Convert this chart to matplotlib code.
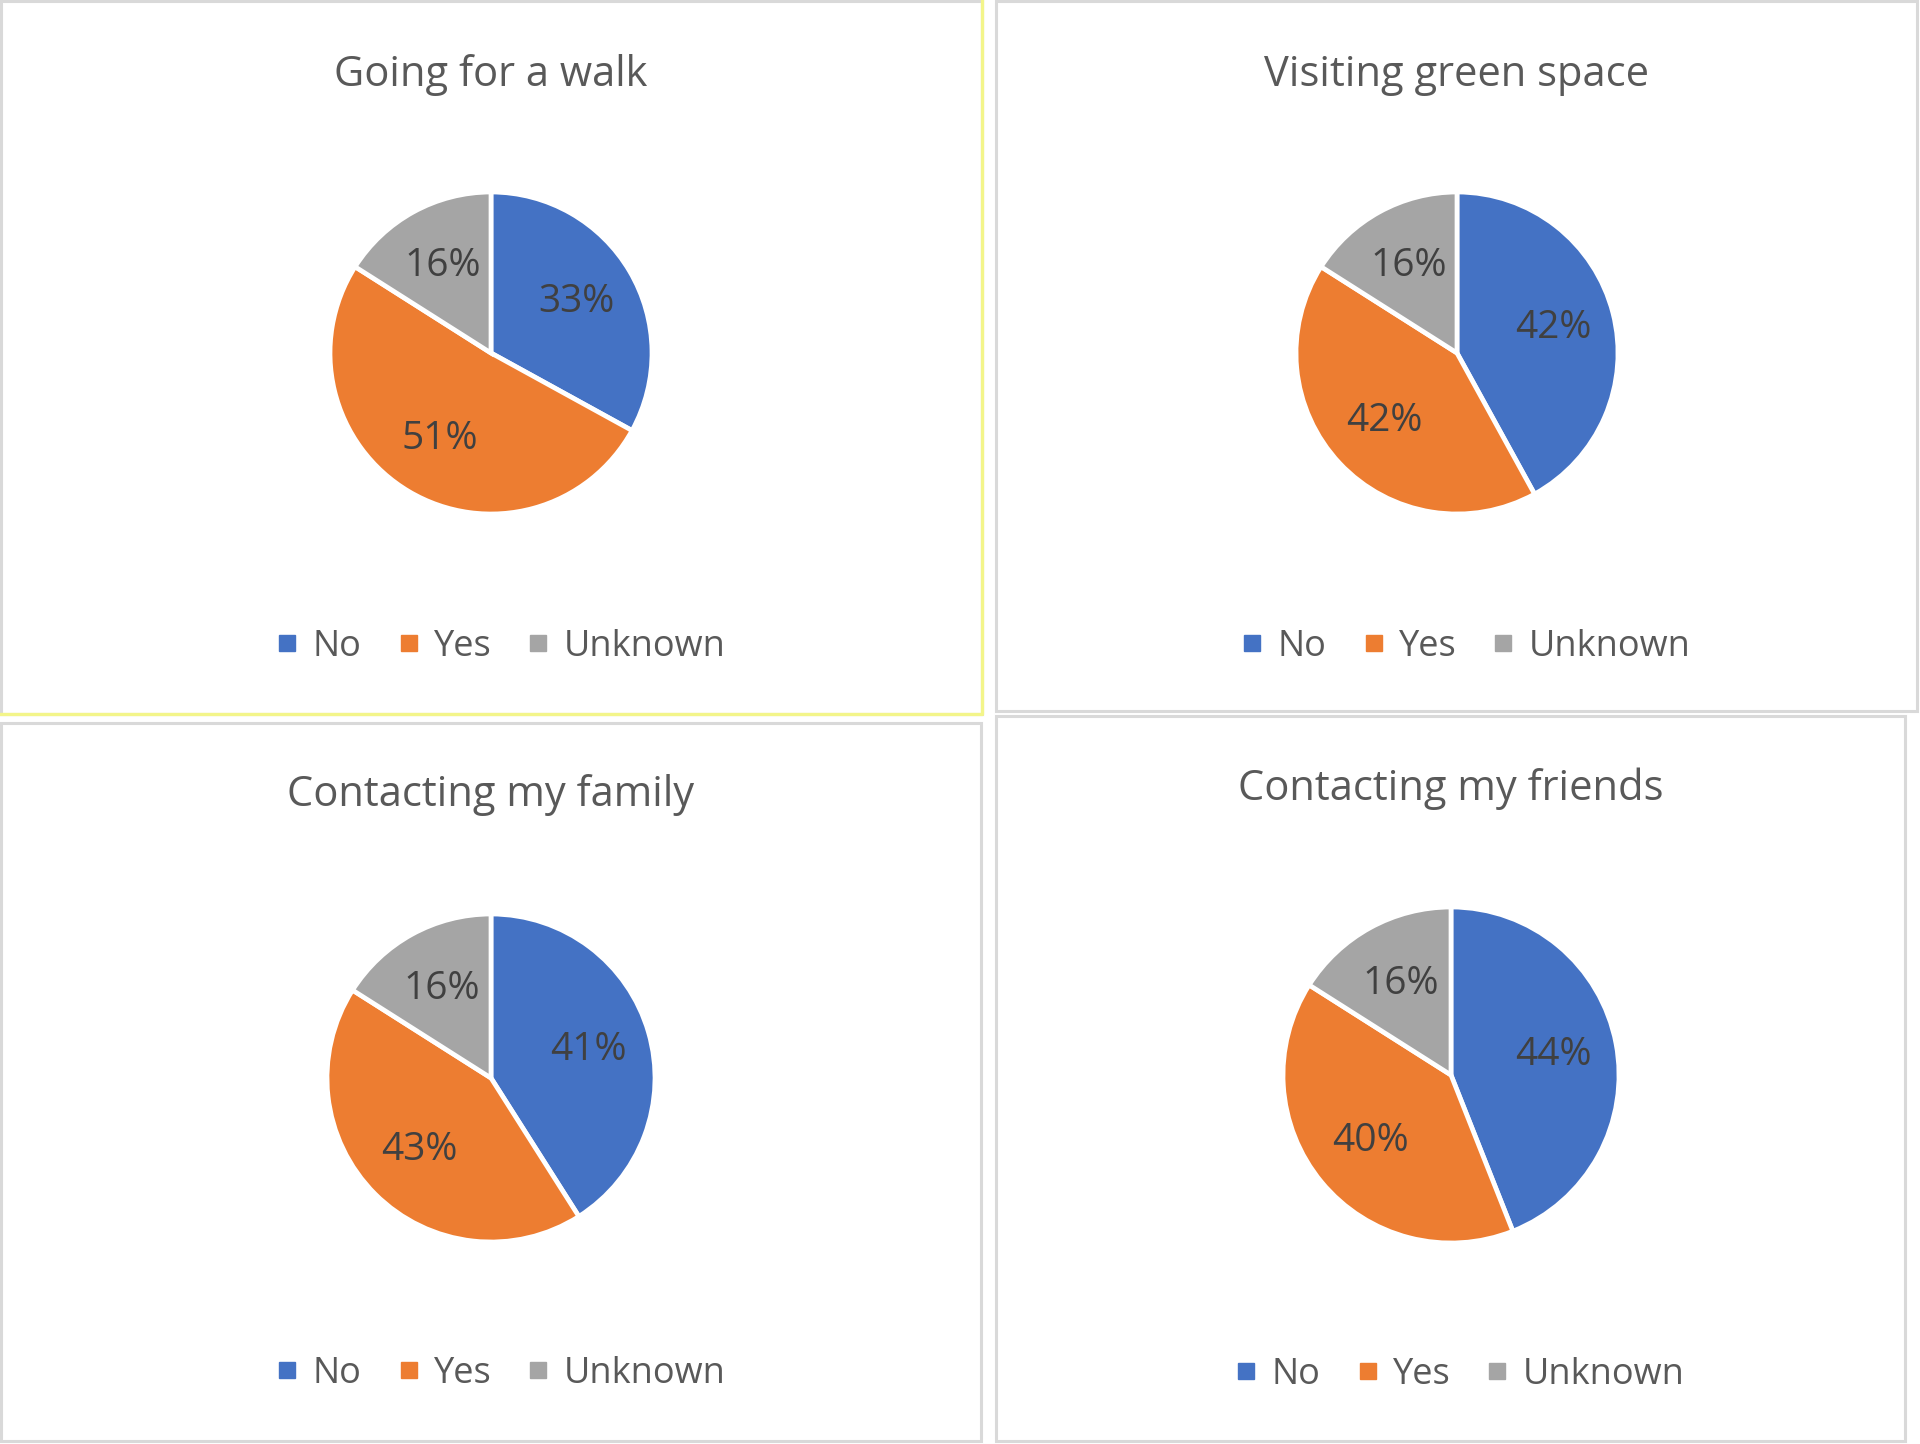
import matplotlib
matplotlib.use("Agg")
import matplotlib.pyplot as plt
from matplotlib.patches import Rectangle
from matplotlib.lines import Line2D

plt.rcParams['font.family'] = ['Open Sans', 'DejaVu Sans']
plt.rcParams['font.weight'] = 'medium'

categories = ["No", "Yes", "Unknown"]
colors = ["#4472C4", "#ED7D31", "#A5A5A5"]
titles = ["Going for a walk", "Visiting green space", "Contacting my family", "Contacting my friends"]
walk = [33, 51, 16]
green_space = [42, 42, 16]
family = [41, 43, 16]
friends = [44, 40, 16]
series = [walk, green_space, family, friends]

W, H = 1920, 1444
fig = plt.figure(figsize=(W / 100, H / 100), dpi=100)
fig.patch.set_facecolor("white")

# panel boxes (x0, y0, x1, y1) in pixels from top-left
panels = [(1, 1, 982, 714), (996, 1, 1917, 711), (1, 723, 981, 1441), (996, 716, 1905, 1441)]
# pie centers and radius
pies = [(491, 353, 161), (1457, 353, 161), (491, 1078, 164), (1451, 1075, 168)]
title_pos = [(491, 75), (1457, 75), (491, 795), (1451, 789)]
legend_pos = [(502, 647), (1467, 647), (502, 1374), (1461, 1375)]

def fx(px):
    return px / W

def fy(py):
    return 1 - py / H

for (x0, y0, x1, y1) in panels:
    fig.patches.append(Rectangle((fx(x0), fy(y1)), fx(x1) - fx(x0), fy(y0) - fy(y1),
                                 transform=fig.transFigure, fill=False,
                                 edgecolor="#D9D9D9", linewidth=2.2))
# yellowish highlight on first panel right/bottom edges
x0, y0, x1, y1 = panels[0]
fig.lines.append(Line2D([fx(x0), fx(x1), fx(x1)], [fy(y1), fy(y1), fy(y0)],
                        transform=fig.transFigure, color="#F3F58A", linewidth=2.4))

for i, vals in enumerate(series):
    cx, cy, r = pies[i]
    ax = fig.add_axes([fx(cx - r), fy(cy + r), 2 * r / W, 2 * r / H])
    wedges, texts, autotexts = ax.pie(vals, colors=colors, startangle=90, counterclock=False,
                                      autopct=lambda p: f"{p:.0f}%", pctdistance=0.62,
                                      wedgeprops=dict(edgecolor="white", linewidth=3.4),
                                      textprops=dict(color="#404040", fontsize=28))
    ax.set_xlim(-1, 1)
    ax.set_ylim(-1, 1)
    ax.axis("off")
    tx, ty = title_pos[i]
    fig.text(fx(tx), fy(ty), titles[i], ha="center", va="center", fontsize=30, color="#595959")
    handles = [Line2D([], [], marker="s", linestyle="", markersize=11, color=c) for c in colors]
    lx, ly = legend_pos[i]
    fig.legend(handles, categories, loc="center", bbox_to_anchor=(fx(lx), fy(ly)),
               ncol=3, frameon=False, fontsize=26, labelcolor="#595959",
               handlelength=0.5, handletextpad=0.45, columnspacing=1.05,
               borderpad=0, borderaxespad=0)

fig.savefig("out.png", dpi=100, facecolor="white")
